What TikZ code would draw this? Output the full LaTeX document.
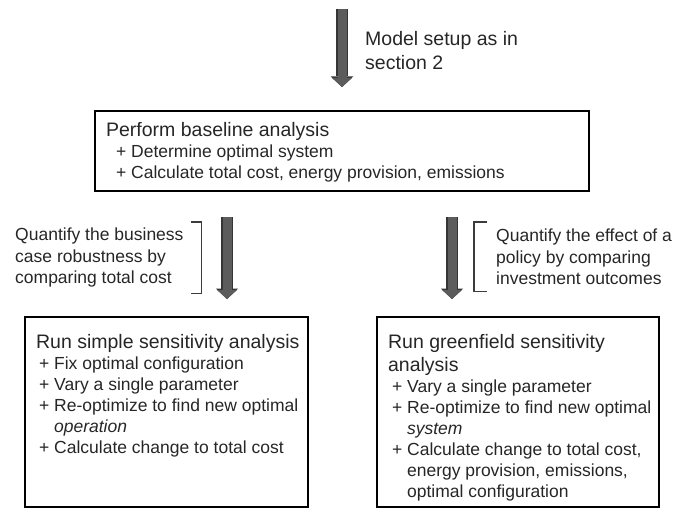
\documentclass[tikz,border=0pt]{standalone}
\usepackage{fontspec}
\setmainfont{Liberation Sans}
\usetikzlibrary{arrows.meta}
\definecolor{textgray}{HTML}{262626}
\definecolor{arrowfill}{HTML}{5C5C5C}
\definecolor{arrowedge}{HTML}{353535}
\definecolor{bracketgray}{HTML}{3C3C3C}
\newcommand{\titlefont}{\fontsize{19.5pt}{23pt}\selectfont}
\newcommand{\bodyfont}{\fontsize{17.5pt}{21pt}\selectfont}
\newcommand{\plusitem}[2]{\par\hangindent=\dimexpr#1+15pt\relax\hangafter=1\hspace*{#1}+ #2}
\newcommand{\boxtext}[3]{\hspace*{11pt}\parbox[t][#1][t]{#2}{\raggedright\bodyfont #3}\hspace*{5pt}}

\begin{document}
\begin{tikzpicture}[x = 1pt, y = -1pt,
  box/.style = {draw = black, line width = 2.2pt, anchor = north west, inner xsep = 0pt, inner ysep = 11pt, text = textgray},
  note/.style = {anchor = north west, inner sep = 0pt, align = left, text = textgray, font = \fontsize{17.5pt}{21.5pt}\selectfont},
  blockarrow/.style = {draw = arrowfill, line width = 9pt, -{Triangle[width = 20pt, length = 9pt, line width = 0pt]},
    preaction = {draw = arrowedge, line width = 11.5pt, -{Triangle[width = 22.5pt, length = 10.5pt, line width = 0pt]}}},
  bracket/.style = {draw = bracketgray, line width = 1.3pt}]
\useasboundingbox (0, 0) rectangle (688, 508);
\node[note, font = \fontsize{19.5pt}{24pt}\selectfont] (setupnote) at (365, 31) {Model setup as in\\section 2};
\node[box] (baseline) at (94, 110) {\boxtext{58pt}{478pt}{%
  {\titlefont Perform baseline analysis\par}
  \plusitem{10pt}{Determine optimal system}
  \plusitem{10pt}{Calculate total cost, energy provision, emissions}}};
\node[box, inner ysep = 17pt] (simple) at (24, 316) {\boxtext{156pt}{267pt}{%
  {\titlefont Run simple sensitivity analysis\par}
  \plusitem{3pt}{Fix optimal configuration}
  \plusitem{3pt}{Vary a single parameter}
  \plusitem{3pt}{Re-optimize to find new optimal\newline\textit{operation}}
  \plusitem{3pt}{Calculate change to total cost}}};
\node[box, inner ysep = 17pt] (green) at (376, 316) {\boxtext{156pt}{266pt}{%
  {\titlefont Run greenfield sensitivity\\analysis\par}
  \plusitem{4pt}{Vary a single parameter}
  \plusitem{4pt}{Re-optimize to find new optimal\newline\textit{system}}
  \plusitem{4pt}{Calculate change to total cost,\newline energy provision, emissions,\newline optimal configuration}}};
\node[note] (qcase) at (15, 228) {Quantify the business\\case robustness by\\comparing total cost};
\node[note] (qpolicy) at (496, 229) {Quantify the effect of a\\policy by comparing\\investment outcomes};
\coordinate (setup) at (342, 9);
\coordinate (casetop) at (227, 217);
\coordinate (policytop) at (452, 217);
\draw[blockarrow, shorten > = 23pt] (setup) -- (setup |- baseline.north);
\draw[blockarrow, shorten > = 17pt] (casetop) -- (casetop |- simple.north);
\draw[blockarrow, shorten > = 17pt] (policytop) -- (policytop |- green.north);
\draw[bracket] ([shift = {(7pt, 6pt)}]qcase.north east) -- ++(11, 0) |- ([shift = {(7pt, -6pt)}]qcase.south east);
\draw[bracket] ([shift = {(-9pt, 7pt)}]qpolicy.north west) -- ++(-13, 0) |- ([shift = {(-9pt, -6pt)}]qpolicy.south west);
\end{tikzpicture}
\end{document}
